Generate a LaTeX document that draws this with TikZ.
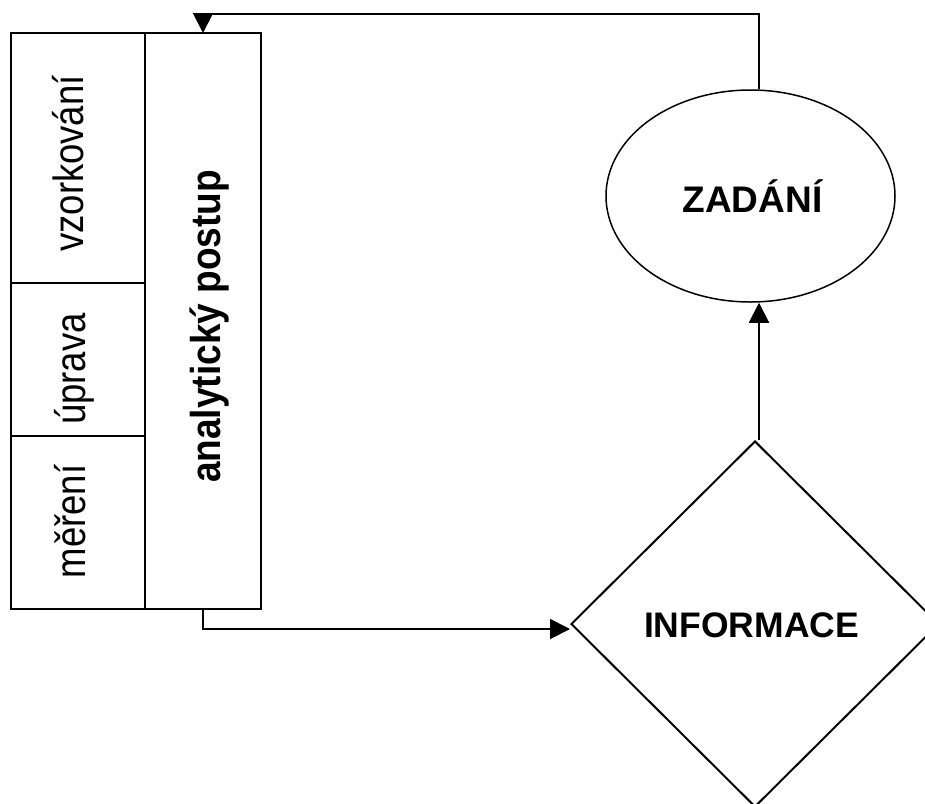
\documentclass[tikz,border=0pt]{standalone}
\usepackage{fontspec}
\setmainfont{Liberation Sans}
\usetikzlibrary{shapes.geometric,arrows.meta}
% text with taller glyphs, as set in the step column
\newcommand{\tallglyphs}[2]{\scalebox{1}[#1]{#2}}
\begin{document}
\begin{tikzpicture}[x=1pt,y=-1pt,
  line width=2pt,
  cell/.style={draw,rectangle,inner sep=0pt,outer sep=0pt},
  sidetext/.style={rotate=90,anchor=base,inner sep=0pt,font=\fontsize{36.5}{42}\selectfont},
  maintext/.style={font=\bfseries\fontsize{37}{42}\selectfont},
  flow/.style={-{Triangle[length=20pt,width=20pt]}}]
\useasboundingbox (0,0) rectangle (925,803);
\clip (0,0) rectangle (925,803);
\fill[white] (0,0) rectangle (925,803);

% column of process steps
\node[cell,minimum width=134pt,minimum height=250pt] (vz) at (78,158) {};
\node[cell,minimum width=134pt,minimum height=153pt] (up) at (78,359.5) {};
\node[cell,minimum width=134pt,minimum height=173pt] (me) at (78,522.5) {};
\node[cell,minimum width=116pt,minimum height=576pt] (an) at (203,321) {};
\node[sidetext] at (83,163.5) {\tallglyphs{1.16}{vzorkování}};
\node[sidetext] at (85,369) {\tallglyphs{1.16}{úprava}};
\node[sidetext] at (85,521.5) {\tallglyphs{1.16}{měření}};
\node[maintext,rotate=90,anchor=base,inner sep=0pt] at (220,326.5)
  {\tallglyphs{1.13}{analytický postup}};

% task and information
\node[draw,ellipse,line width=1.5pt,inner sep=0pt,minimum width=289pt,minimum height=212pt]
  (zad) at (750.5,196) {};
\node[maintext,anchor=base,inner sep=0pt] at (752.5,212) {ZADÁNÍ};
\node[draw,diamond,aspect=1,inner sep=0pt,minimum width=368pt,minimum height=366pt]
  (inf) at (755,624) {};
\node[maintext,font=\bfseries\fontsize{35.5}{42}\selectfont,anchor=base,inner sep=0pt]
  at (751.5,637) {INFORMACE};

% connectors
\coordinate (corner) at (759,14);
\draw[flow] (zad.north -| corner) -- (corner) -| (an.north);
\draw[flow] (an.south) |- ([yshift=-5pt]inf.west);
\draw[flow] (inf.north -| corner) -- (zad.south -| corner);
\end{tikzpicture}
\end{document}
